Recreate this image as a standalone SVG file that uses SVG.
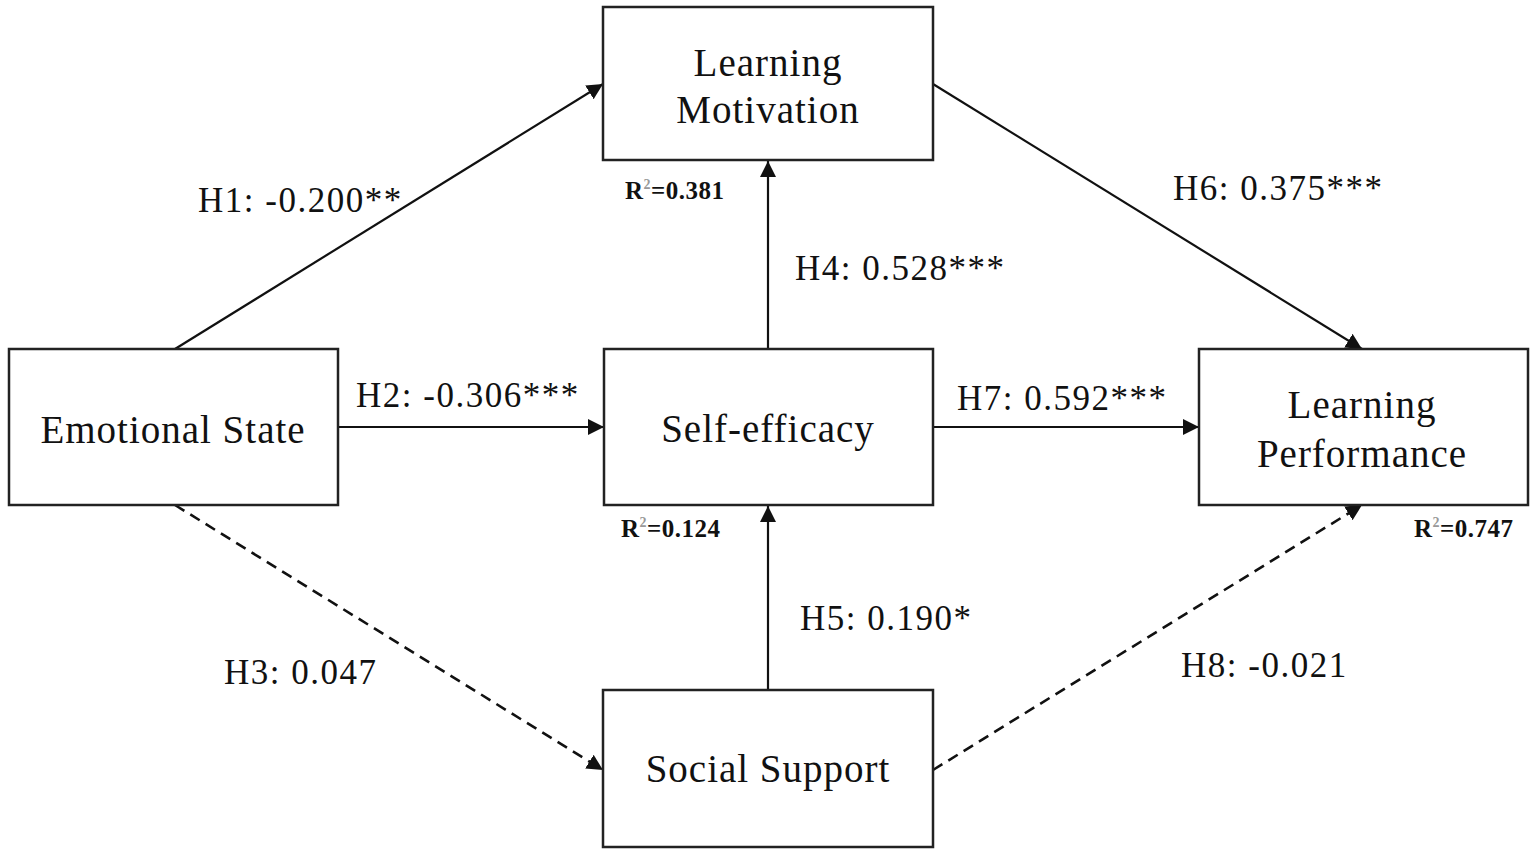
<svg xmlns="http://www.w3.org/2000/svg" width="1535" height="853" viewBox="0 0 1535 853">
<style>
.box{fill:#fff;stroke:#222;stroke-width:2.5}
.node{font-family:"Liberation Serif",serif;font-size:39px;fill:#111;letter-spacing:1px}
.lbl{font-family:"Liberation Serif",serif;font-size:35px;fill:#111;letter-spacing:1.5px}
.r2{font-family:"Liberation Serif",serif;font-size:25px;font-weight:bold;fill:#111;letter-spacing:0.5px}
.ln{stroke:#111;stroke-width:2.2;fill:none}
.dash{stroke-dasharray:11,7;stroke-width:2.6}
</style>
<defs>
<marker id="ah" viewBox="0 0 10 10" refX="10" refY="5" markerWidth="16" markerHeight="16" markerUnits="userSpaceOnUse" orient="auto">
<path d="M0,0 L10,5 L0,10 z" fill="#111"/>
</marker>
</defs>
<rect width="1535" height="853" fill="#fff"/>
<g id="connectors">
<line class="ln" x1="175" y1="349" x2="603" y2="84" marker-end="url(#ah)"/>
<line class="ln" x1="933" y1="84" x2="1362" y2="349" marker-end="url(#ah)"/>
<line class="ln" x1="768" y1="349" x2="768" y2="161" marker-end="url(#ah)"/>
<line class="ln" x1="338" y1="427" x2="604" y2="427" marker-end="url(#ah)"/>
<line class="ln" x1="933" y1="427" x2="1199" y2="427" marker-end="url(#ah)"/>
<line class="ln" x1="768" y1="690" x2="768" y2="506" marker-end="url(#ah)"/>
<line class="ln dash" x1="175" y1="505" x2="603" y2="770" marker-end="url(#ah)"/>
<line class="ln dash" x1="933" y1="770" x2="1362" y2="505" marker-end="url(#ah)"/>
</g>
<g id="learning-motivation">
<rect class="box" x="603" y="7" width="330" height="153"/>
<text class="node" x="768" y="76" text-anchor="middle">Learning</text>
<text class="node" x="768" y="123" text-anchor="middle">Motivation</text>
</g>
<g id="emotional-state">
<rect class="box" x="9" y="349" width="329" height="156"/>
<text class="node" x="173" y="443" text-anchor="middle">Emotional State</text>
</g>
<g id="self-efficacy">
<rect class="box" x="604" y="349" width="329" height="156"/>
<text class="node" x="768" y="442" text-anchor="middle">Self-efficacy</text>
</g>
<g id="learning-performance">
<rect class="box" x="1199" y="349" width="329" height="156"/>
<text class="node" x="1362" y="418" text-anchor="middle">Learning</text>
<text class="node" x="1362" y="467" text-anchor="middle">Performance</text>
</g>
<g id="social-support">
<rect class="box" x="603" y="690" width="330" height="157"/>
<text class="node" x="768" y="782" text-anchor="middle">Social Support</text>
</g>
<g id="labels">
<text class="lbl" x="198" y="212">H1: -0.200**</text>
<text class="lbl" x="1173" y="200">H6: 0.375***</text>
<text class="lbl" x="795" y="280">H4: 0.528***</text>
<text class="lbl" x="356" y="407">H2: -0.306***</text>
<text class="lbl" x="957" y="410">H7: 0.592***</text>
<text class="lbl" x="800" y="630">H5: 0.190*</text>
<text class="lbl" x="224" y="684">H3: 0.047</text>
<text class="lbl" x="1181" y="677">H8: -0.021</text>
<text class="r2" x="625" y="199">R<tspan font-size="14" dy="-10" fill="#999">2</tspan><tspan dy="10">=0.381</tspan></text>
<text class="r2" x="621" y="537">R<tspan font-size="14" dy="-10" fill="#999">2</tspan><tspan dy="10">=0.124</tspan></text>
<text class="r2" x="1414" y="537">R<tspan font-size="14" dy="-10" fill="#999">2</tspan><tspan dy="10">=0.747</tspan></text>
</g>
</svg>
